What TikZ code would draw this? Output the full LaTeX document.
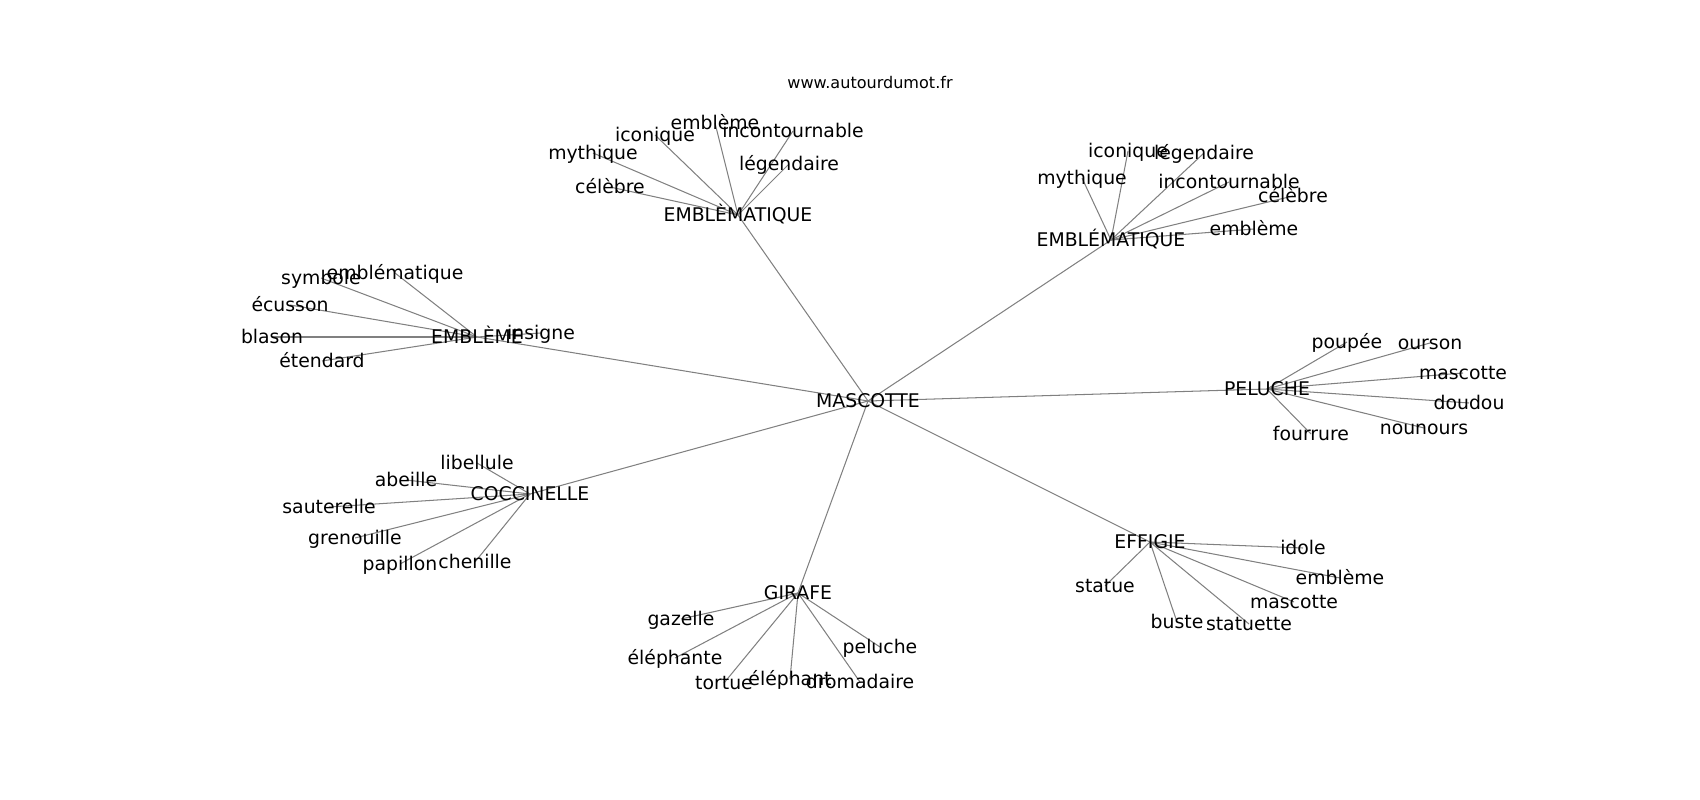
\documentclass[tikz,border=0pt]{standalone}
\usepackage{fontspec}
\setmainfont{DejaVu Sans}
\usetikzlibrary{backgrounds}

\tikzstyle{word}=[inner sep=0pt,text height=0.9em,text depth=0.03em,font=\fontsize{13.6}{16}\selectfont]
\tikzstyle{site}=[inner sep=0pt,font=\fontsize{11.6}{14}\selectfont]
\tikzstyle{edge} = [draw,black!50,line width=0.75pt]

\begin{document}
\begin{tikzpicture}[x=0.01in,y=-0.01in]
     \useasboundingbox (0,0) rectangle (1700,800);
     \node[site] (site) at (870,83) {www.autourdumot.fr};
     % First the central word and the hubs
     \foreach \pos/\name/\txt in {{(868,401)/masc/MASCOTTE}, {(738,215)/emblA/EMBLÈMATIQUE},
       {(1111,240)/emblB/EMBLÉMATIQUE}, {(477,337)/embl/EMBLÈME}, {(1267,389)/pel/PELUCHE},
       {(530,494)/cocc/COCCINELLE}, {(798,593)/gir/GIRAFE}, {(1150,542)/eff/EFFIGIE}}
     \node[word] (\name) at \pos {\txt};

     % Then the leaves of every hub
     \foreach \pos/\name/\txt in {{(715,123)/emblA-emb/emblème}, {(655,135)/emblA-ico/iconique},
       {(593,153)/emblA-myt/mythique}, {(610,187)/emblA-cel/célèbre},
       {(793,131)/emblA-inc/incontournable}, {(789,164)/emblA-leg/légendaire}}
     \node[word] (\name) at \pos {\txt};

     \foreach \pos/\name/\txt in {{(1128,151)/emblB-ico/iconique}, {(1204,153)/emblB-leg/légendaire},
       {(1082,178)/emblB-myt/mythique}, {(1229,182)/emblB-inc/incontournable},
       {(1293,196)/emblB-cel/célèbre}, {(1254,229)/emblB-emb/emblème}}
     \node[word] (\name) at \pos {\txt};

     \foreach \pos/\name/\txt in {{(321,278)/embl-sym/symbole}, {(395,273)/embl-emt/emblématique},
       {(290,305)/embl-ecu/écusson}, {(272,337)/embl-bla/blason},
       {(322,361)/embl-ete/étendard}, {(541,333)/embl-ins/insigne}}
     \node[word] (\name) at \pos {\txt};

     \foreach \pos/\name/\txt in {{(1347,342)/pel-pou/poupée}, {(1430,343)/pel-our/ourson},
       {(1463,373)/pel-mas/mascotte}, {(1469,403)/pel-dou/doudou},
       {(1424,428)/pel-nou/nounours}, {(1311,434)/pel-fou/fourrure}}
     \node[word] (\name) at \pos {\txt};

     \foreach \pos/\name/\txt in {{(477,463)/cocc-lib/libellule}, {(406,480)/cocc-abe/abeille},
       {(329,507)/cocc-sau/sauterelle}, {(355,538)/cocc-gre/grenouille},
       {(400,564)/cocc-pap/papillon}, {(475,562)/cocc-che/chenille}}
     \node[word] (\name) at \pos {\txt};

     \foreach \pos/\name/\txt in {{(681,619)/gir-gaz/gazelle}, {(675,658)/gir-elf/éléphante},
       {(724,683)/gir-tor/tortue}, {(790,679)/gir-ele/éléphant},
       {(860,682)/gir-dro/dromadaire}, {(880,647)/gir-pel/peluche}}
     \node[word] (\name) at \pos {\txt};

     \foreach \pos/\name/\txt in {{(1303,548)/eff-ido/idole}, {(1340,578)/eff-emb/emblème},
       {(1294,602)/eff-mas/mascotte}, {(1105,586)/eff-sta/statue},
       {(1177,622)/eff-bus/buste}, {(1249,624)/eff-stt/statuette}}
     \node[word] (\name) at \pos {\txt};

     % Edges go below the words
     \begin{pgfonlayer}{background}
       \foreach \dest in {emblA, emblB, embl, pel, cocc, gir, eff}
       \path[edge] (masc.center) -- (\dest.center);
       \foreach \source/\dest in {emblA/emb, emblA/ico, emblA/myt, emblA/cel, emblA/inc, emblA/leg,
         emblB/ico, emblB/leg, emblB/myt, emblB/inc, emblB/cel, emblB/emb,
         embl/sym, embl/emt, embl/ecu, embl/bla, embl/ete, embl/ins,
         pel/pou, pel/our, pel/mas, pel/dou, pel/nou, pel/fou,
         cocc/lib, cocc/abe, cocc/sau, cocc/gre, cocc/pap, cocc/che,
         gir/gaz, gir/elf, gir/tor, gir/ele, gir/dro, gir/pel,
         eff/ido, eff/emb, eff/mas, eff/sta, eff/bus, eff/stt}
       \path[edge] (\source.center) -- (\source-\dest.center);
     \end{pgfonlayer}
\end{tikzpicture}
\end{document}
